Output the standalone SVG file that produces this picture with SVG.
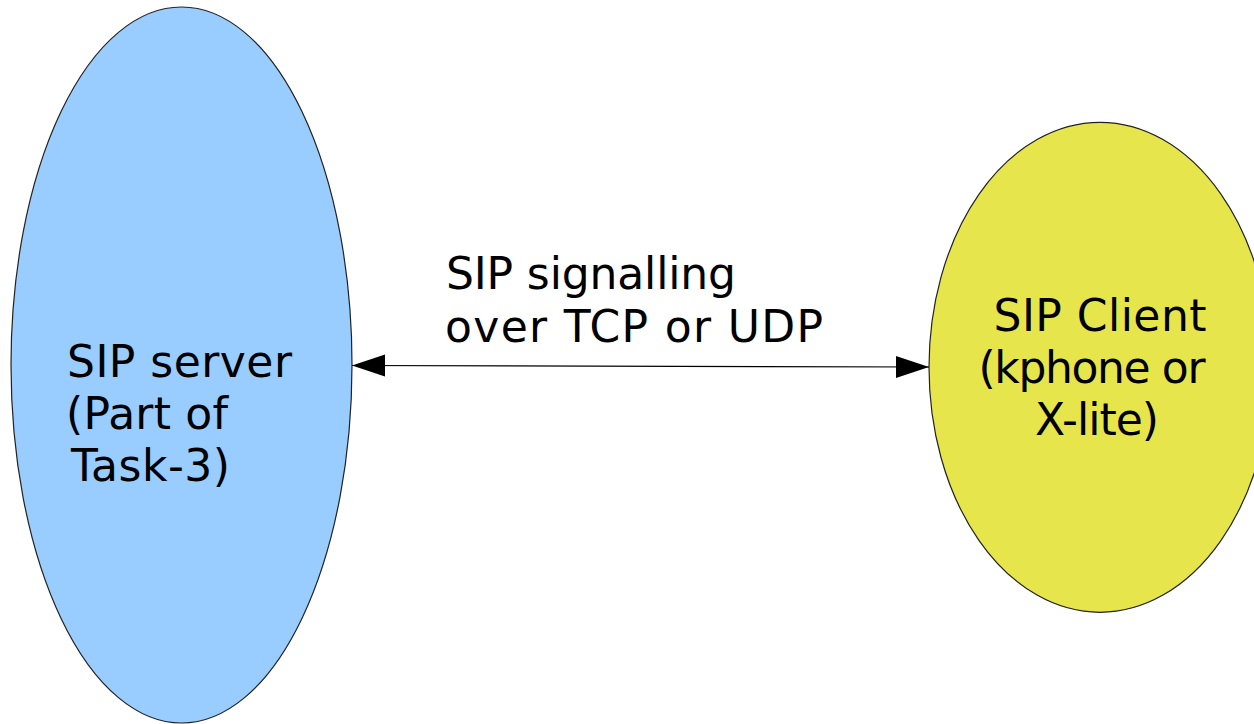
<svg xmlns="http://www.w3.org/2000/svg" width="1254" height="724" viewBox="0 0 1254 724">
<style>
.lbl{font-family:"DejaVu Sans",sans-serif;font-size:44px;fill:#000}
.node{stroke:#222;stroke-width:1.2}
.conn{stroke:#000;stroke-width:1.2;fill:none}
</style>
<defs>
<marker id="arr" markerUnits="userSpaceOnUse" markerWidth="34" markerHeight="24" refX="33" refY="11" orient="auto-start-reverse" viewBox="0 0 34 22">
<path d="M0,0 L33,11 L0,22 z" fill="#000"/>
</marker>
</defs>
<rect width="1254" height="724" fill="#fff"/>
<g id="server">
<ellipse class="node" cx="181.5" cy="365" rx="170.5" ry="358" fill="#99ccff"/>
<text class="lbl" x="67" y="377" textLength="225" lengthAdjust="spacing">SIP server</text>
<text class="lbl" x="66" y="429" textLength="162" lengthAdjust="spacing">(Part of</text>
<text class="lbl" x="71" y="481" textLength="159" lengthAdjust="spacing">Task-3)</text>
</g>
<g id="client">
<ellipse class="node" cx="1100" cy="367.3" rx="171" ry="245" fill="#e6e64c"/>
<text class="lbl" x="1100" y="331" text-anchor="middle" textLength="213" lengthAdjust="spacing">SIP Client</text>
<text class="lbl" x="1092" y="383" text-anchor="middle" textLength="227" lengthAdjust="spacing">(kphone or</text>
<text class="lbl" x="1097" y="435" text-anchor="middle" textLength="124" lengthAdjust="spacing">X-lite)</text>
</g>
<g id="connectors">
<line class="conn" x1="352" y1="365.5" x2="929" y2="367" marker-start="url(#arr)" marker-end="url(#arr)"/>
<text class="lbl" x="446" y="289" textLength="290" lengthAdjust="spacing">SIP signalling</text>
<text class="lbl" x="445" y="342" textLength="378" lengthAdjust="spacing">over TCP or UDP</text>
</g>
</svg>
